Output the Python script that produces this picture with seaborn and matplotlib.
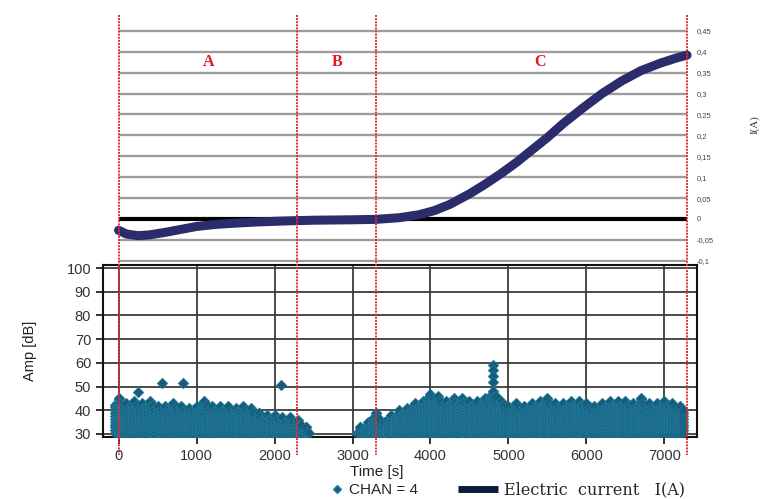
import numpy as np
import pandas as pd
import seaborn as sns
import matplotlib
matplotlib.use("Agg")
import matplotlib.pyplot as plt
from matplotlib.lines import Line2D
import matplotlib.transforms as mtransforms

# ---------------- data ----------------
# electric current I(A) vs time [s]
cur_t = [0, 100, 250, 400, 600, 800, 1000, 1250, 1500, 1800, 2100, 2500, 3000,
         3300, 3600, 3850, 4050, 4250, 4500, 4700, 4900, 5100, 5300, 5500, 5700,
         5950, 6200, 6450, 6700, 6950, 7150, 7290]
cur_i = [-0.027, -0.036, -0.040, -0.038, -0.032, -0.025, -0.018, -0.013, -0.010,
         -0.007, -0.005, -0.003, -0.002, -0.001, 0.003, 0.010, 0.020, 0.035,
         0.060, 0.083, 0.108, 0.135, 0.165, 0.195, 0.228, 0.265, 0.300, 0.330,
         0.355, 0.373, 0.385, 0.392]

# upper envelope of the dense AE hit band (CHAN = 4), read every 100 s
band_t = [0, 100, 200, 300, 400, 500, 600, 700, 800, 900, 1000, 1100, 1200,
          1300, 1400, 1500, 1600, 1700, 1800, 1900, 2000, 2100, 2200, 2300, 2400,
          3100, 3200, 3300, 3400, 3500, 3600, 3700, 3800, 3900, 4000, 4100, 4200,
          4300, 4400, 4500, 4600, 4700, 4800, 4900, 5000, 5100, 5200, 5300, 5400,
          5500, 5600, 5700, 5800, 5900, 6000, 6100, 6200, 6300, 6400, 6500, 6600,
          6700, 6800, 6900, 7000, 7100, 7200]
band_top = [45, 43, 44, 43, 44, 42, 42, 43, 42, 41, 42, 44, 42,
            42, 42, 41, 42, 41, 39, 38, 38, 37, 37, 36, 33,
            33, 35, 39, 35, 38, 40, 41, 43, 44, 47, 46, 44,
            45, 45, 44, 44, 45, 48, 44, 42, 43, 42, 43, 44,
            45, 43, 43, 44, 44, 43, 42, 43, 44, 44, 44, 43,
            45, 43, 43, 44, 43, 42]
# isolated high-amplitude hits
out_t = [250, 560, 830, 2080, 4800, 4800, 4800, 4800]
out_a = [47.5, 51.5, 51.5, 50.5, 59.0, 57.0, 54.5, 52.0]

phase_bounds = [0, 2290, 3300, 7290]
phase_labels = ["A", "B", "C"]
phase_label_t = [1150, 2800, 5400]

i_ticks = [0.45, 0.4, 0.35, 0.3, 0.25, 0.2, 0.15, 0.1, 0.05, 0, -0.05, -0.1]
amp_ticks = [30, 40, 50, 60, 70, 80, 90, 100]
time_ticks = [0, 1000, 2000, 3000, 4000, 5000, 6000, 7000]

# expand band envelope into a dense cloud of markers (staggered lattice)
rows = []
for t, top in zip(band_t, band_top):
    for k, off in enumerate((-40, -20, 0, 20, 40)):
        lv = 30.4 + (0.6 if k % 2 else 0.0)
        lim = top if off == 0 else top - 1.5
        while lv <= lim:
            rows.append((t + off, lv))
            lv += 1.2
        if off == 0:
            rows.append((t, top))
for t, a in zip(out_t, out_a):
    rows.append((t, a))
ae = pd.DataFrame(rows, columns=["time", "amp"])
cur = pd.DataFrame({"time": cur_t, "I": cur_i})

# ---------------- figure ----------------
sns.set_theme(style="white")
plt.rcParams["font.family"] = ["Liberation Sans", "DejaVu Sans"]
W, H = 760, 499
fig = plt.figure(figsize=(W / 100, H / 100), dpi=100)

def fx(px):
    return px / W

def fy(py):
    return 1 - py / H

x0, x1 = -199, 7417
teal = "#145d7b"
teal_edge = "#2680a2"

# ----- top panel: current -----
axt = fig.add_axes([fx(103), fy(262), fx(697) - fx(103), fy(15) - fy(262)])
axt.set_xlim(x0, x1)
axt.set_ylim(-0.103, 0.488)
for sp in axt.spines.values():
    sp.set_visible(False)
axt.set_xticks([])
for v in i_ticks:
    if v == 0:
        continue
    axt.hlines(v, 0, phase_bounds[-1], color="#9c9c9c", lw=1.7, zorder=1)
axt.hlines(0, 0, phase_bounds[-1], color="black", lw=3, zorder=2)
sns.lineplot(data=cur, x="time", y="I", ax=axt, color="#2a2c6b", lw=6.5,
             zorder=3, solid_capstyle="round")
axt.set_xlabel("")
axt.set_ylabel("")
axt.yaxis.tick_right()
axt.set_yticks(i_ticks)
axt.set_yticklabels([("%g" % v).replace(".", ",") for v in i_ticks])
axt.tick_params(axis="y", length=0, pad=0, labelsize=5.5, labelcolor="#444444")
for lab, t in zip(phase_labels, phase_label_t):
    axt.text(t, 0.375, lab, color="#e3171c", fontsize=11.5, fontweight="bold",
             family=["Liberation Serif", "DejaVu Serif"], ha="center", va="center")
fig.text(fx(755), fy(125), "I(A)", rotation=90, ha="center", va="center",
         fontsize=8, family=["Liberation Serif", "DejaVu Serif"], color="#333333")

# ----- bottom panel: AE amplitude -----
axb = fig.add_axes([fx(103), fy(437), fx(697) - fx(103), fy(265) - fy(437)])
axb.set_xlim(x0, x1)
axb.set_ylim(28.73, 101.27)
axb.set_axisbelow(True)
axb.set_xticks(time_ticks)
axb.set_yticks(amp_ticks)
axb.grid(True, color="#3c3c3c", lw=1.3)
sns.scatterplot(data=ae, x="time", y="amp", ax=axb, marker="D", s=30,
                color=teal, edgecolor=teal_edge, linewidth=0.4, zorder=3,
                legend=False)
for sp in axb.spines.values():
    sp.set_color("#111111")
    sp.set_linewidth(1.5)
axb.tick_params(axis="both", direction="out", length=5, width=1.3,
                color="#222222", labelsize=10.5, labelcolor="#333333",
                bottom=True, left=True)
axb.set_xlabel("Time [s]", fontsize=11, color="#222222")
axb.set_ylabel("Amp [dB]", fontsize=10.5, color="#222222")
axb.xaxis.set_label_coords((377 - 103) / 594, -0.16)
axb.yaxis.set_label_coords((37 - 103) / 594, 0.5)

# ----- red phase boundary lines across both panels -----
blend = mtransforms.blended_transform_factory(axb.transData, fig.transFigure)
for b in phase_bounds:
    fig.add_artist(Line2D([b, b], [fy(15), fy(455)], transform=blend,
                          color="#e0302f", lw=1.4, ls=(0, (1, 0.6)), zorder=10))

# ----- legend (two entries, each with its own handle size) -----
h1 = Line2D([], [], marker="D", ls="", color=teal, markeredgecolor=teal_edge,
            markersize=4.5)
leg1 = fig.legend([h1], ["CHAN = 4"], loc="center left",
                  bbox_to_anchor=(fx(331), fy(490)), frameon=False, fontsize=11,
                  handlelength=0.8, handletextpad=0.4, borderpad=0,
                  borderaxespad=0)
h2 = Line2D([], [], color="#0e1a3c", lw=5, solid_capstyle="butt")
leg2 = fig.legend([h2], ["Electric  current   I(A)"], loc="center left",
                  bbox_to_anchor=(fx(458), fy(490)), frameon=False,
                  fontsize=11.5, handlelength=2.5, handletextpad=0.4,
                  borderpad=0, borderaxespad=0)
leg2.get_texts()[0].set_family(["DejaVu Serif"])

fig.savefig("out.png", dpi=100)
